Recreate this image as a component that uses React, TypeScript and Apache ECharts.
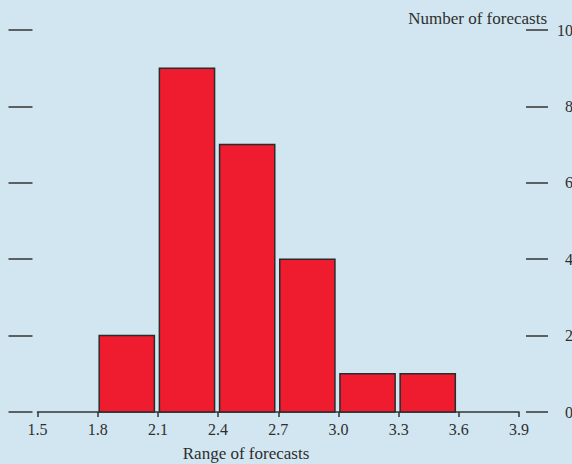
import React, { useEffect, useRef } from "react";
import * as echarts from "echarts";

const binStarts = [1.8, 2.1, 2.4, 2.7, 3.0, 3.3];
const binWidth = 0.3;
const counts = [2, 9, 7, 4, 1, 1];
const xTicks = [1.5, 1.8, 2.1, 2.4, 2.7, 3.0, 3.3, 3.6, 3.9];
const yTicks = [0, 2, 4, 6, 8, 10];
const xTitle = "Range of forecasts";
const yTitle = "Number of forecasts";

const FONT = "'Liberation Serif', 'DejaVu Serif', serif";
const INK = "#333333";

export default function App() {
  const ref = useRef<HTMLDivElement>(null);
  useEffect(() => {
    document.body.style.margin = "0";
    const chart = echarts.init(ref.current!, undefined, { renderer: "svg" });
    const data = binStarts.map((s, i) => [s, s + binWidth, counts[i]]);
    chart.setOption({
      animation: false,
      backgroundColor: "#d1e6f0",
      grid: { left: 37.5, right: 53, top: 30, bottom: 52, outerBoundsMode: "none", containLabel: false },
      xAxis: {
        type: "value",
        min: xTicks[0],
        max: xTicks[xTicks.length - 1],
        interval: 0.3,
        axisLine: { show: true, lineStyle: { color: INK, width: 1.5 } },
        axisTick: { show: true, length: 5, lineStyle: { color: INK, width: 1.5 } },
        axisLabel: {
          color: "#2e2e2e",
          fontFamily: FONT,
          fontSize: 16,
          margin: 9,
          formatter: (v: number) => v.toFixed(1),
        },
        splitLine: { show: false },
      },
      yAxis: [
        {
          type: "value",
          position: "left",
          min: yTicks[0],
          max: yTicks[yTicks.length - 1],
          interval: 2,
          offset: 5,
          axisLine: { show: false },
          axisTick: { show: true, length: 24, lineStyle: { color: INK, width: 1.5 } },
          axisLabel: { show: false },
          splitLine: { show: false },
        },
        {
          type: "value",
          position: "right",
          min: yTicks[0],
          max: yTicks[yTicks.length - 1],
          interval: 2,
          offset: 7,
          axisLine: { show: false },
          axisTick: { show: true, length: 22, lineStyle: { color: INK, width: 1.5 } },
          axisLabel: {
            color: "#2e2e2e",
            fontFamily: FONT,
            fontSize: 16,
            align: "right",
            margin: 47,
          },
          splitLine: { show: false },
        },
      ],
      graphic: [
        {
          type: "text",
          x: 547,
          y: 18,
          style: {
            text: yTitle,
            font: `17px ${FONT}`,
            fill: "#2e2e2e",
            textAlign: "right",
            textVerticalAlign: "middle",
          },
        },
        {
          type: "text",
          x: 246,
          y: 453,
          style: {
            text: xTitle,
            font: `17px ${FONT}`,
            fill: "#2e2e2e",
            textAlign: "center",
            textVerticalAlign: "middle",
          },
        },
      ],
      series: [
        {
          type: "custom",
          xAxisIndex: 0,
          yAxisIndex: 0,
          data,
          renderItem: (params: any, api: any) => {
            const p0 = api.coord([api.value(0), api.value(2)]);
            const p1 = api.coord([api.value(1), 0]);
            const x = p0[0] + 1.5;
            const w = p1[0] - p0[0] - 5;
            return {
              type: "rect",
              shape: { x, y: p0[1], width: w, height: p1[1] - p0[1] },
              style: { fill: "#ee1c2e", stroke: "#2b2b2b", lineWidth: 1.5 },
            };
          },
        },
      ],
    });
    return () => chart.dispose();
  }, []);
  return <div ref={ref} style={{ width: 572, height: 464 }} />;
}
